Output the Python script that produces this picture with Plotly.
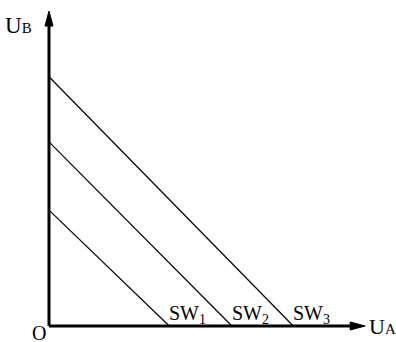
import plotly.graph_objects as go

# line intercepts on each axis (arbitrary units, ~62 px per unit)
ua_intercepts = [1.94, 2.95, 3.94]
ub_intercepts = [1.87, 2.97, 4.02]
line_labels = ["SW<sub>1</sub>", "SW<sub>2</sub>", "SW<sub>3</sub>"]

ua_axis_len = 5.10
ub_axis_len = 5.08

PX = 62.0  # px per unit
head_len = 15 / PX
head_half = 4 / PX
serif = "Liberation Serif, Times New Roman, serif"

fig = go.Figure()

# switching lines
for xa, yb in zip(ua_intercepts, ub_intercepts):
    fig.add_trace(go.Scatter(x=[0, xa], y=[yb, 0], mode="lines",
                             line=dict(color="black", width=1.2),
                             hoverinfo="skip", showlegend=False))

# axes
fig.add_trace(go.Scatter(x=[0, ua_axis_len - head_len], y=[0, 0], mode="lines",
                         line=dict(color="black", width=3), showlegend=False))
fig.add_trace(go.Scatter(x=[0, 0], y=[0, ub_axis_len - head_len], mode="lines",
                         line=dict(color="black", width=3), showlegend=False))

# arrow heads
fig.add_trace(go.Scatter(
    x=[ua_axis_len - head_len, ua_axis_len, ua_axis_len - head_len, ua_axis_len - head_len],
    y=[head_half, 0, -head_half, head_half],
    fill="toself", fillcolor="black", mode="lines",
    line=dict(color="black", width=1), showlegend=False))
fig.add_trace(go.Scatter(
    x=[-head_half, 0, head_half, -head_half],
    y=[ub_axis_len - head_len, ub_axis_len, ub_axis_len - head_len, ub_axis_len - head_len],
    fill="toself", fillcolor="black", mode="lines",
    line=dict(color="black", width=1), showlegend=False))

annotations = []
for xa, lab in zip(ua_intercepts, line_labels):
    annotations.append(dict(x=xa, y=0.18, text=lab, showarrow=False,
                            xanchor="left", yanchor="middle", xshift=-2,
                            font=dict(family=serif, size=20, color="black")))

annotations += [
    dict(x=-0.25, y=4.85, text="U<span style='font-size:15px'>B</span>",
         showarrow=False, xanchor="right", yanchor="middle",
         font=dict(family=serif, size=23, color="black")),
    dict(x=5.13, y=0.0, text="U<span style='font-size:15px'>A</span>",
         showarrow=False, xanchor="left", yanchor="middle",
         font=dict(family=serif, size=22, color="black")),
    dict(x=-0.16, y=-0.12, text="O", showarrow=False,
         xanchor="center", yanchor="middle",
         font=dict(family=serif, size=20, color="black")),
]

fig.update_layout(
    width=396, height=342,
    margin=dict(l=0, r=0, t=0, b=0),
    paper_bgcolor="white", plot_bgcolor="white",
    xaxis=dict(range=[-49 / PX, (396 - 49) / PX], visible=False, fixedrange=True),
    yaxis=dict(range=[-(342 - 326) / PX, 326 / PX], visible=False, fixedrange=True),
    annotations=annotations,
)

# drop the default page margin so the figure fills the window
fig.write_html("out.html", config={"displayModeBar": False},
               post_script="document.body.style.margin='0';")
